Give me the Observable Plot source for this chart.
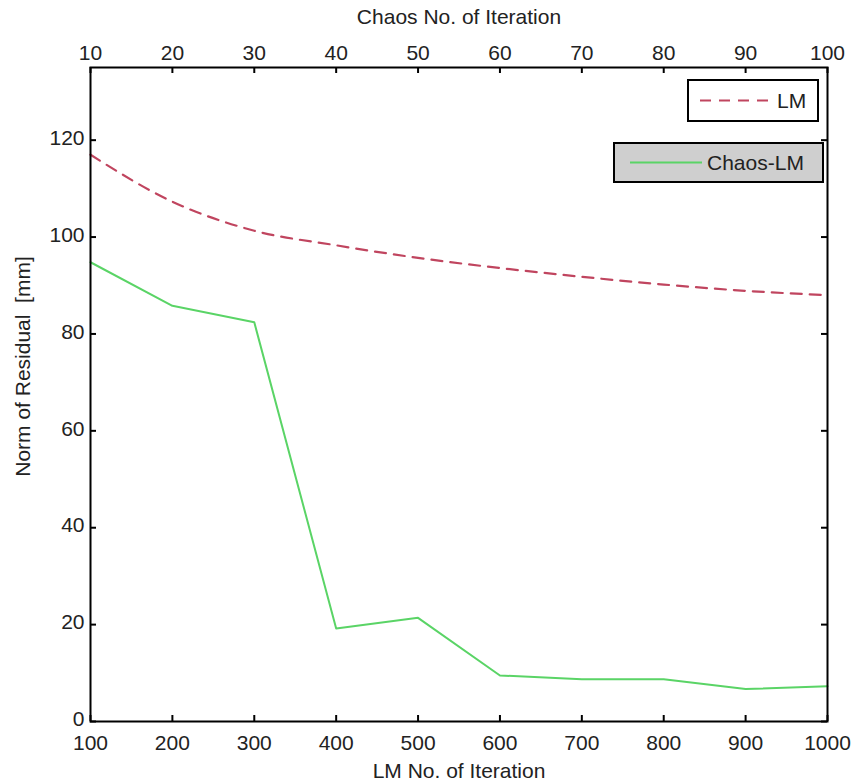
<!DOCTYPE html>
<html>
<head>
<meta charset="utf-8">
<script src="https://cdn.jsdelivr.net/npm/d3@7"></script>
<script src="https://cdn.jsdelivr.net/npm/@observablehq/plot@0.6"></script>
<style>
  html, body { margin: 0; padding: 0; background: #fff; }
  #chart svg { display: block; }
</style>
</head>
<body>
<div id="chart"></div>
<script>
// ---- data ----
const lmIter = [100, 200, 300, 400, 500, 600, 700, 800, 900, 1000];
const chaosIter = [10, 20, 30, 40, 50, 60, 70, 80, 90, 100];
const lmResidual = [117.0, 107.3, 101.3, 98.3, 95.7, 93.6, 91.8, 90.2, 88.9, 88.0];
const chaosLmResidual = [94.8, 85.8, 82.4, 19.2, 21.4, 9.5, 8.7, 8.7, 6.7, 7.3];
const yTicks = [0, 20, 40, 60, 80, 100, 120];
const seriesNames = ["LM", "Chaos-LM"];
const xTitleBottom = "LM No. of Iteration";
const xTitleTop = "Chaos No. of Iteration";
const yTitle = "Norm of Residual  [mm]";

const lmData = lmIter.map((x, i) => ({x, y: lmResidual[i]}));
const chaosData = lmIter.map((x, i) => ({x, y: chaosLmResidual[i]}));

const W = 857, H = 782;
const mL = 90, mR = 30, mT = 67, mB = 61;
const innerW = W - mL - mR, innerH = H - mT - mB;
const tickLen = 6;
const font = "'Liberation Sans', Arial, sans-serif";
const fs = 21;
const lmColor = "#c0455f";
const chaosColor = "#5ad466";

const chart = Plot.plot({
  width: W,
  height: H,
  marginLeft: mL,
  marginRight: mR,
  marginTop: mT,
  marginBottom: mB,
  style: {fontFamily: font, fontSize: fs + "px", color: "#222", background: "#fff"},
  x: {domain: [100, 1000]},
  y: {domain: [0, 135]},
  marks: [
    // data lines
    Plot.line(lmData, {x: "x", y: "y", stroke: lmColor, strokeWidth: 2.2, strokeDasharray: "11,8", curve: "monotone-x"}),
    Plot.line(chaosData, {x: "x", y: "y", stroke: chaosColor, strokeWidth: 2}),
    // inward ticks
    Plot.ruleY(yTicks, {stroke: "#000", strokeWidth: 2, insetRight: innerW - tickLen}),
    Plot.ruleY(yTicks, {stroke: "#000", strokeWidth: 2, insetLeft: innerW - tickLen}),
    Plot.ruleX(lmIter, {stroke: "#000", strokeWidth: 2, insetTop: innerH - tickLen}),
    Plot.ruleX(lmIter, {stroke: "#000", strokeWidth: 2, insetBottom: innerH - tickLen}),
    // axes (labels only)
    Plot.axisY(yTicks, {anchor: "left", tickSize: 0, tickPadding: 6, dy: -2, label: null, fontSize: fs, fill: "#222",
      tickFormat: d => String(d)}),
    Plot.axisX(lmIter, {anchor: "bottom", tickSize: 0, tickPadding: 14, label: null, fontSize: fs, fill: "#222",
      tickFormat: d => String(d)}),
    Plot.axisX(lmIter, {anchor: "top", tickSize: 0, tickPadding: 8, label: null, fontSize: fs, fill: "#222",
      tickFormat: d => String(chaosIter[lmIter.indexOf(d)])}),
    // axis titles
    Plot.text([xTitleTop], {text: d => d, frameAnchor: "top", lineAnchor: "middle", dy: -50, fontSize: fs, fill: "#222"}),
    Plot.text([xTitleBottom], {text: d => d, frameAnchor: "bottom", lineAnchor: "middle", dy: 50, fontSize: fs, fill: "#222"}),
    Plot.text([yTitle], {text: d => d, frameAnchor: "left", textAnchor: "middle", lineAnchor: "middle",
      rotate: -90, dx: -67, dy: -28, fontSize: fs, fill: "#222"}),
    Plot.frame({stroke: "#000", strokeWidth: 2})
  ]
});

// ---- legends (two separate boxes like the MATLAB original) ----
const svg = d3.select(chart);
const g = svg.append("g").attr("font-family", font).attr("font-size", fs).attr("text-anchor", "start");

// LM legend
g.append("rect").attr("x", 688).attr("y", 80).attr("width", 130).attr("height", 41)
  .attr("fill", "#fff").attr("stroke", "#000").attr("stroke-width", 2);
g.append("line").attr("x1", 700).attr("x2", 771).attr("y1", 100.5).attr("y2", 100.5)
  .attr("stroke", lmColor).attr("stroke-width", 2.2).attr("stroke-dasharray", "11,8");
g.append("text").attr("x", 777).attr("y", 100.5).attr("dy", "0.35em").attr("fill", "#222")
  .attr("text-anchor", "start").text(seriesNames[0]);

// Chaos-LM legend
g.append("rect").attr("x", 614).attr("y", 143).attr("width", 209).attr("height", 39)
  .attr("fill", "#cfcfcf").attr("stroke", "#000").attr("stroke-width", 2);
g.append("line").attr("x1", 630).attr("x2", 702).attr("y1", 162.5).attr("y2", 162.5)
  .attr("stroke", chaosColor).attr("stroke-width", 2);
g.append("text").attr("x", 707).attr("y", 162.5).attr("dy", "0.35em").attr("fill", "#222")
  .attr("text-anchor", "start").text(seriesNames[1]);

document.getElementById("chart").appendChild(chart);
</script>
</body>
</html>
